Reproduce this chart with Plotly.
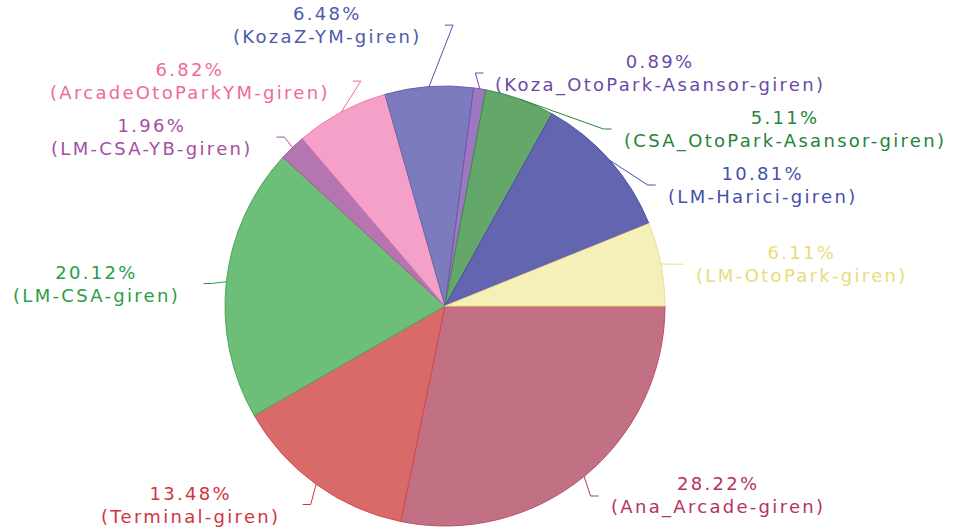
import math
import plotly.graph_objects as go

# ---- data ----
labels = ["Ana_Arcade-giren", "Terminal-giren", "LM-CSA-giren", "LM-CSA-YB-giren",
          "ArcadeOtoParkYM-giren", "KozaZ-YM-giren", "Koza_OtoPark-Asansor-giren",
          "CSA_OtoPark-Asansor-giren", "LM-Harici-giren", "LM-OtoPark-giren"]
values = [28.22, 13.48, 20.12, 1.96, 6.82, 6.48, 0.89, 5.11, 10.81, 6.11]

# ---- styles ----
fill_colors = ["#c27083", "#d96a6a", "#6dbe78", "#b475b0", "#f4a0c8",
               "#7b7bbd", "#9b78c0", "#63a86a", "#6465b1", "#f5f0b8"]
edge_colors = ["#b8506c", "#d84848", "#4aa858", "#a45aa0", "#ee82b2",
               "#6266ae", "#7a52b0", "#3f8f4a", "#4c4ea6", "#ece08e"]
text_colors = ["#b5335c", "#d0343c", "#2a9d48", "#a64ea3", "#f0689e",
               "#4d5aab", "#6b4aa6", "#26843a", "#4550ad", "#e9dc7a"]

W, H = 953, 528
CX, CY, R = 445, 306, 220
R_NAT = 240      # natural radius for label anchor
R_END = 243      # radius where leader lines end
LABEL_DY = 4     # vertical shift of labels
SPACING = 56     # minimal vertical distance between label centres
FONT = "DejaVu Sans, Verdana, sans-serif"
FSIZE = 18
LSP = "2.3px"

fig = go.Figure()
fig.add_trace(go.Pie(
    labels=labels, values=values, sort=False, direction="clockwise", rotation=90,
    marker=dict(colors=fill_colors, line=dict(color=edge_colors, width=1)),
    textinfo="none", hoverinfo="label+percent", showlegend=False,
    domain=dict(x=[(CX - R) / W, (CX + R) / W], y=[1 - (CY + R) / H, 1 - (CY - R) / H]),
))

# ---- label layout computed from the data ----
total = sum(values)
cum = 0.0
items = []
for i, v in enumerate(values):
    th = 2 * math.pi * (cum + v / 2) / total
    cum += v
    side = 1 if math.cos(th) >= 0 else -1
    ny = CY + R_NAT * math.sin(th) + LABEL_DY
    items.append(dict(i=i, th=th, side=side, y=ny, ny=ny))

right = sorted([it for it in items if it["side"] == 1], key=lambda d: d["y"])
prev = None
for it in right:
    if prev is not None:
        it["y"] = max(it["y"], prev + SPACING)
    prev = it["y"]
left = sorted([it for it in items if it["side"] == -1], key=lambda d: -d["y"])
prev = None
for it in left:
    if prev is not None:
        it["y"] = min(it["y"], prev - SPACING)
    prev = it["y"]

shapes = []
annotations = []
for it in items:
    i, th, s, y = it["i"], it["th"], it["side"], it["y"]
    x0 = CX + R * math.cos(th)
    y0 = CY + R * math.sin(th)
    if abs(y - it["ny"]) < 0.5:
        ex = CX + R_END * math.cos(th)
    else:
        dy = y - CY
        ex = CX + s * math.sqrt(max(0.0, R_END ** 2 - dy ** 2))
    elb = ex - s * 8
    shapes.append(dict(type="path", xref="x", yref="y",
                       path=f"M{x0:.1f},{y0:.1f} L{elb:.1f},{y:.1f} L{ex:.1f},{y:.1f}",
                       line=dict(color=text_colors[i], width=1)))
    txt = (f'<span style="letter-spacing:{LSP}">{values[i]:.2f}%</span><br>'
           f'<span style="letter-spacing:{LSP}">({labels[i]})</span>')
    annotations.append(dict(
        x=ex + (10 if s == 1 else -21), y=y, xref="x", yref="y",
        xanchor="left" if s == 1 else "right", yanchor="middle",
        text=txt, align="center", showarrow=False,
        font=dict(family=FONT, size=FSIZE, color=text_colors[i])))

fig.update_layout(
    width=W, height=H, margin=dict(l=0, r=0, t=0, b=0),
    paper_bgcolor="white", plot_bgcolor="rgba(0,0,0,0)",
    xaxis=dict(range=[0, W], visible=False, domain=[0, 1], fixedrange=True),
    yaxis=dict(range=[H, 0], visible=False, domain=[0, 1], fixedrange=True),
    shapes=shapes, annotations=annotations,
)
fig.write_html("out.html", config={"displayModeBar": False},
               post_script="document.body.style.margin='0';document.body.style.overflow='hidden';")
